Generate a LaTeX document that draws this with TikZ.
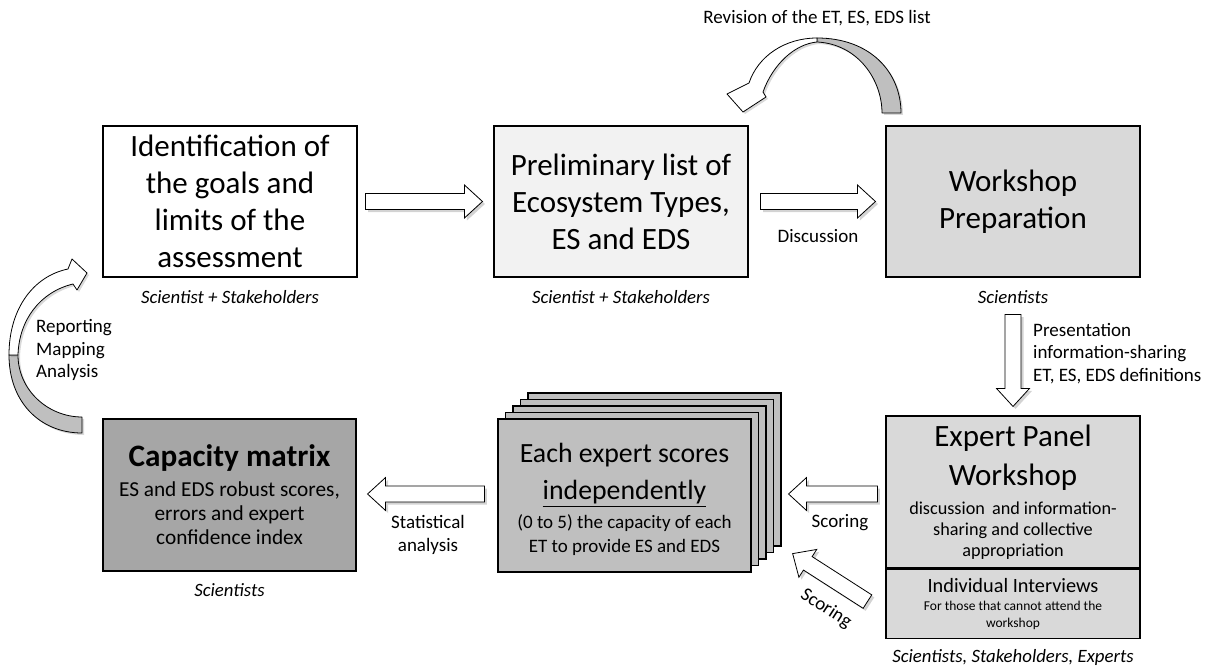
\documentclass[tikz,border=0pt]{standalone}
\usepackage{fontspec}
\setmainfont{Carlito}
\usetikzlibrary{positioning, calc, shadows}

\definecolor{boxlight}{HTML}{F2F2F2}
\definecolor{boxmid}{HTML}{D9D9D9}
\definecolor{boxstack}{HTML}{BFBFBF}
\definecolor{boxdark}{HTML}{A6A6A6}

\newcommand{\bigfont}{\fontsize{31}{37}\selectfont}
\newcommand{\subfont}{\fontsize{18.2}{21}\selectfont}

\tikzset{
  stepbox/.style={draw, line width=1.1pt, minimum width=254pt, minimum height=151pt,
    inner sep=0pt, align=center, font=\bigfont},
  who/.style={font=\fontsize{18.8}{22}\selectfont\itshape, inner sep=0pt},
  note/.style={font=\fontsize{19}{22.5}\selectfont, inner sep=0pt, align=center},
  blockarrow/.style={draw, line width=0.8pt, fill=white, line join=miter,
    drop shadow={shadow xshift=2.5pt, shadow yshift=-2.5pt, opacity=0.35}},
  curl/.style={draw, line width=0.8pt, line join=round,
    drop shadow={shadow xshift=2pt, shadow yshift=-2pt, opacity=0.3}},
}

% fat outlined arrow from #1 to #2
\newcommand{\blockarrow}[2]{%
  \path[blockarrow] let \p1=($(#2)-(#1)$), \n1={veclen(\x1,\y1)}, \n2={atan2(\y1,\x1)} in
    [shift={(#1)}, rotate=\n2] (0pt,-8pt) -- (\n1-18pt,-8pt) -- (\n1-18pt,-16.5pt)
    -- (\n1,0pt) -- (\n1-18pt,16.5pt) -- (\n1-18pt,8pt) -- (0pt,8pt) -- cycle;}

\begin{document}
\begin{tikzpicture}[x=1pt, y=-1pt]
\useasboundingbox (0,0) rectangle (1208,666);

% top row
\node[stepbox] (ident) at (230,201.5) {Identification of\\the goals and\\limits of the\\assessment};
\node[stepbox, fill=boxlight] (prelim) at (621,201.5) {Preliminary list of\\Ecosystem Types,\\ES and EDS};
\node[stepbox, fill=boxmid] (prep) at (1013,201.5) {Workshop\\Preparation};

% expert panel
\node[stepbox, fill=boxmid, minimum height=152pt] (panel) at (1013,492)
  {Expert Panel\\[2pt]Workshop\\[-8pt]\subfont discussion\, and information-\\[-16pt]\subfont sharing and collective\\[-16pt]\subfont appropriation};
\node[stepbox, fill=boxmid, minimum height=69pt, below=0pt of panel] (interview)
  {\fontsize{20.3}{22}\selectfont Individual Interviews\\[-19pt]\fontsize{13.5}{16}\selectfont For those that cannot attend the\\[-20pt]\fontsize{13.5}{16}\selectfont workshop};

% stack of expert sheets
\coordinate (sc) at (624.5,495.5);
\foreach \i in {4,3,2,1}
  \draw[line width=1.1pt, fill=boxstack] ($(sc)+(7.5*\i-126.5,-6.5*\i-76.5)$) rectangle +(253,153);
\node[stepbox, fill=boxstack, minimum width=253pt, minimum height=153pt] (scores) at (sc)
  {\rule{0pt}{28pt}\fontsize{27.8}{35}\selectfont Each expert scores\\\fontsize{27.8}{35}\selectfont\underline{independently}\\[-8pt]\fontsize{19}{23}\selectfont (0 to 5) the capacity of each\\[-13pt]\fontsize{19}{23}\selectfont ET to provide ES and EDS};

% result
\node[stepbox, fill=boxdark, minimum width=253pt, minimum height=152pt] (capacity) at (229.5,495)
  {\fontsize{31.2}{34}\selectfont\bfseries Capacity matrix\\[-7pt]\fontsize{21.3}{24}\selectfont ES and EDS robust scores,\\[-13pt]\fontsize{21.3}{24}\selectfont errors and expert\\[-13pt]\fontsize{21.3}{24}\selectfont confidence index};

% who is involved
\node[who, below=12.5pt of ident] (who1) {Scientist + Stakeholders};
\node[who, below=12.5pt of prelim] (who2) {Scientist + Stakeholders};
\node[who, below=12.5pt of prep] (who3) {Scientists};
\node[who, below=11.5pt of capacity] (who4) {Scientists};
\node[who, below=11pt of interview] (who5) {Scientists, Stakeholders, Experts};

% block arrows
\coordinate (a1s) at ($(ident.east)+(8,0)$);
\coordinate (a1e) at ($(prelim.west)+(-11,0)$);
\coordinate (a2s) at ($(prelim.east)+(12,0)$);
\coordinate (a2e) at ($(prep.west)+(-10,0)$);
\coordinate (a3s) at ($(prep.south)+(0,37)$);
\coordinate (a3e) at ($(panel.north)+(0,-9)$);
\coordinate (a4s) at ($(panel.west)+(-8,2)$);
\coordinate (a4e) at ($(scores.east)+(37,-1.5)$);
\coordinate (a5s) at ($(interview.west)+(-18,-2)$);
\coordinate (a5e) at ($(scores.south east)+(41,-19)$);
\coordinate (a6s) at ($(scores.west)+(-13,-1.5)$);
\coordinate (a6e) at ($(capacity.east)+(11,-1)$);
\blockarrow{a1s}{a1e}
\blockarrow{a2s}{a2e}
\blockarrow{a3s}{a3e}
\blockarrow{a4s}{a4e}
\blockarrow{a5s}{a5e}
\blockarrow{a6s}{a6e}

% curved arrows
\draw[curl, fill=boxstack] (817,38) .. controls (870,38) and (901,72) .. (901,113) -- (882,113)
  .. controls (882,80) and (858,44) .. (817,42) -- cycle;
\draw[curl, fill=white] (817,38) .. controls (785,38) and (758,56) .. (749,83) -- (727,94) -- (743,112)
  -- (766,97) -- (763,92) .. controls (773,64) and (795,44) .. (817,42) -- cycle;
\draw[curl, fill=boxstack] (9,355) .. controls (9,402) and (40,433) .. (82,433) -- (82,417)
  .. controls (48,417) and (18,390) .. (18,355) -- cycle;
\draw[curl, fill=white] (68,269) -- (72,259) -- (87,273) -- (77,290) -- (73,284)
  .. controls (40,292) and (19,320) .. (18,355) -- (9,355) .. controls (9,308) and (34,276) .. (68,269) -- cycle;

% labels
\node[note] (revise) at (817,18) {Revision of the ET, ES, EDS list};
\node[note] (discuss) at ($(a2s)!0.5!(a2e)+(0,35)$) {Discussion};
\node[note, anchor=west, align=left] (present) at ($(a3s)!0.5!(a3e)+(20,-7)$)
  {Presentation\\information-sharing\\ET, ES, EDS definitions};
\node[note] (score1) at ($(a4s)!0.5!(a4e)+(7,29)$) {Scoring};
\node[note, rotate=-33] (score2) at ($(a5s)!0.5!(a5e)+(-4,31)$) {Scoring};
\node[note] (stat) at ($(a6s)!0.5!(a6e)+(2,41)$) {Statistical\\analysis};
\node[note, anchor=west, align=left] (report) at (36,350) {Reporting\\Mapping\\Analysis};
\end{tikzpicture}
\end{document}
